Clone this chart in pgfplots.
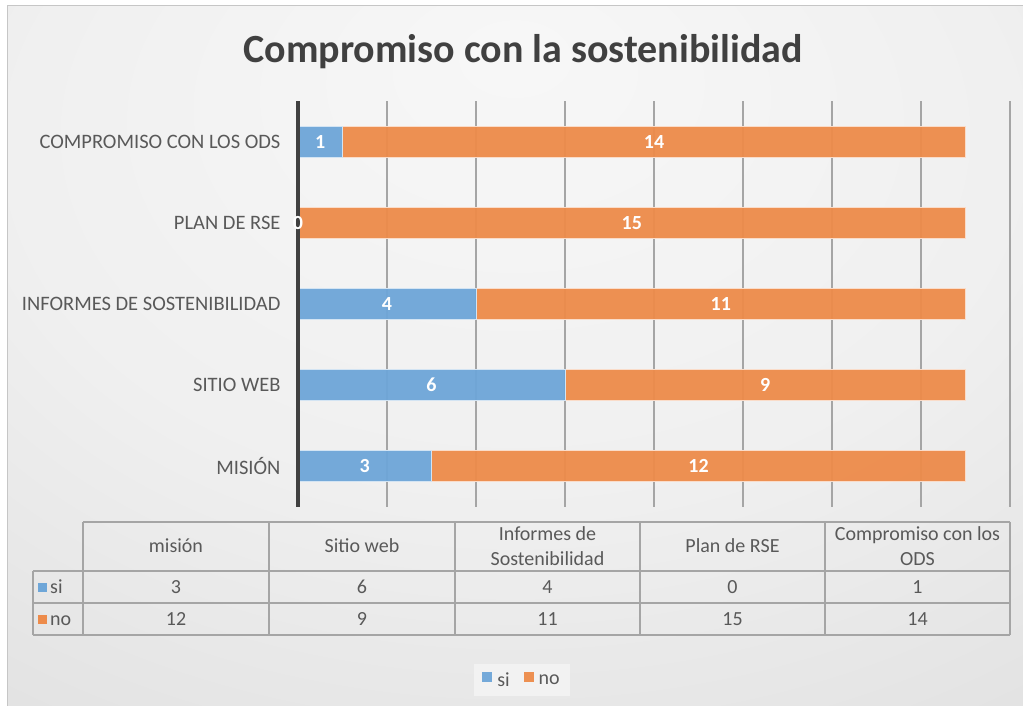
\documentclass[border=0pt]{standalone}
\usepackage{fontspec}
\setmainfont{Carlito}
\usepackage{pgfplots}
\pgfplotsset{compat=1.18}
\definecolor{cblue}{RGB}{110,166,216}
\definecolor{corange}{RGB}{237,139,74}
\definecolor{txt}{RGB}{89,89,89}
\definecolor{ttl}{RGB}{64,64,64}
\definecolor{tline}{RGB}{165,165,165}
\pgfdeclareradialshading{bgshade}{\pgfpoint{0bp}{22bp}}{color(0bp)=(white!97!black); color(25bp)=(white!94!black); color(50bp)=(white!87!black); color(80bp)=(white!83!black)}
\begin{document}
\begin{tikzpicture}[x=1pt,y=1pt]
\useasboundingbox (0,0) rectangle (1023,706);
\fill[white] (0,0) rectangle (1023,706);
\shade[shading=bgshade] (7,0) rectangle (1023,700);
\draw[gray!45, line width=1pt] (7,0) -- (7,700) -- (1023,700);
\node[font=\fontsize{40}{46}\selectfont\bfseries, text=ttl, anchor=base] at (523,643) {Compromiso con la sostenibilidad};

\begin{axis}[
  at={(298pt,199pt)}, anchor=south west,
  scale only axis, width=712pt, height=406pt,
  xbar stacked, bar width=31pt, clip=false,
  xmin=0, xmax=16, ymin=-0.5, ymax=4.5,
  xtick={0,2,...,16}, xticklabels={},
  ytick={0,1,2,3,4},
  yticklabels={MISIÓN, SITIO WEB, INFORMES DE SOSTENIBILIDAD, PLAN DE RSE, COMPROMISO CON LOS ODS},
  yticklabel style={font=\fontsize{20.5}{24}\selectfont, text=txt, xshift=-14pt},
  major tick length=0pt,
  xmajorgrids, grid style={tline, line width=1.2pt},
  axis x line*=bottom, x axis line style={draw=none},
  axis y line*=left, y axis line style={draw=none},
  legend style={at={(0.3146,-0.426)}, anchor=center, draw=none, fill=white, fill opacity=0.45, text opacity=1,
    legend columns=2, font=\fontsize{20}{24}\selectfont, text=txt,
    /tikz/every odd column/.append style={column sep=3pt},
    /tikz/every even column/.append style={column sep=12pt}, inner xsep=8pt, inner ysep=6pt},
  legend image code/.code={\fill[#1, draw=none] (0pt,-2pt) rectangle (10pt,8pt);},
]
\addplot[fill=cblue, draw=white!70!cblue, line width=0.8pt, fill opacity=0.95] coordinates {(3,0) (6,1) (4,2) (0,3) (1,4)};
\addplot[fill=corange, draw=white!70!corange, line width=0.8pt, fill opacity=0.95] coordinates {(12,0) (9,1) (11,2) (15,3) (14,4)};
\legend{si, no}
\end{axis}

\begin{axis}[
  at={(298pt,199pt)}, anchor=south west,
  scale only axis, width=712pt, height=406pt,
  xmin=0, xmax=16, ymin=-0.5, ymax=4.5,
  hide axis, clip=false,
  every node near coord/.style={anchor=center, font=\fontsize{20}{24}\selectfont\bfseries, text=white},
]
\draw[ttl, line width=3.5pt] (axis cs:0,-0.5) -- (axis cs:0,4.5);
\addplot[draw=none, mark=none, nodes near coords, point meta=explicit symbolic]
  coordinates {(1.5,0)[3] (3,1)[6] (2,2)[4] (0,3)[0] (0.5,4)[1]};
\addplot[draw=none, mark=none, nodes near coords, point meta=explicit symbolic]
  coordinates {(9,0)[12] (10.5,1)[9] (9.5,2)[11] (7.5,3)[15] (8,4)[14]};
\end{axis}

% data table
\begin{scope}[tline, line width=1.2pt]
\draw (83,184) -- (1010,184);
\draw (33,135) -- (1010,135);
\draw (33,103) -- (1010,103);
\draw (33,71) -- (1010,71);
\draw (33,135) -- (33,71);
\foreach \x in {83,269,455,640,825,1010} \draw (\x,184) -- (\x,71);
\end{scope}
\begin{scope}[every node/.style={font=\fontsize{20}{25}\selectfont, text=txt, align=center}]
\node[anchor=base] at (176,153) {misión};
\node[anchor=base] at (362,153) {Sitio web};
\node at (547.5,160) {Informes de\\Sostenibilidad};
\node[anchor=base] at (732.5,153) {Plan de RSE};
\node at (917.5,160) {Compromiso con los\\ODS};
\node[anchor=base] at (176,112) {3};
\node[anchor=base] at (362,112) {6};
\node[anchor=base] at (547.5,112) {4};
\node[anchor=base] at (732.5,112) {0};
\node[anchor=base] at (917.5,112) {1};
\node[anchor=base] at (176,80) {12};
\node[anchor=base] at (362,80) {9};
\node[anchor=base] at (547.5,80) {11};
\node[anchor=base] at (732.5,80) {15};
\node[anchor=base] at (917.5,80) {14};
\node[anchor=base west, inner sep=0pt] at (50,112) {si};
\node[anchor=base west, inner sep=0pt] at (50,80) {no};
\end{scope}
\fill[cblue] (38,114) rectangle (47,123);
\fill[corange] (38,82) rectangle (47,91);
\end{tikzpicture}
\end{document}
